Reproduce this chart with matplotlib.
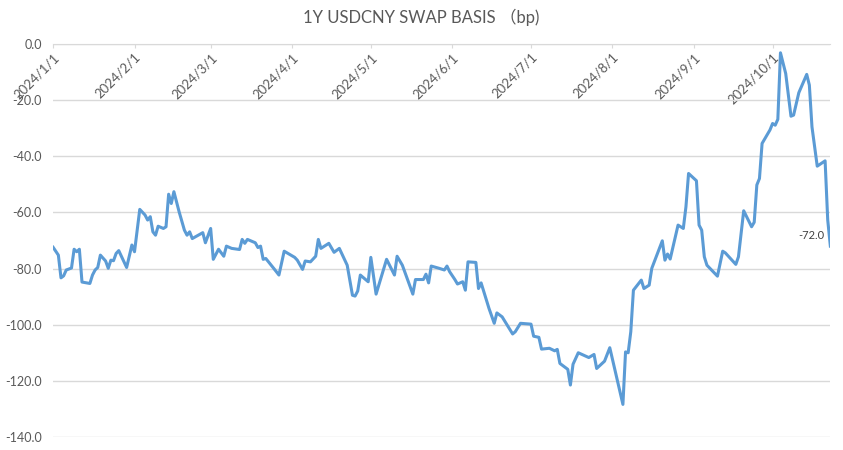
import matplotlib.pyplot as plt
import matplotlib.dates as mdates
import pandas as pd

params = {
    'font.family': ['Lato', 'Noto Sans CJK SC', 'DejaVu Sans'],
    'font.size': 9,
    'axes.unicode_minus': False,
}
plt.rcParams.update(params)

title = '1Y USDCNY SWAP BASIS （bp)'

dates = [
    '2024-01-01', '2024-01-03', '2024-01-04', '2024-01-05', '2024-01-06', '2024-01-08',
    '2024-01-09', '2024-01-10', '2024-01-11', '2024-01-12', '2024-01-15', '2024-01-16',
    '2024-01-17', '2024-01-18', '2024-01-19', '2024-01-21', '2024-01-22', '2024-01-23',
    '2024-01-24', '2024-01-25', '2024-01-26', '2024-01-29', '2024-01-31', '2024-02-01',
    '2024-02-03', '2024-02-05', '2024-02-06', '2024-02-07', '2024-02-08', '2024-02-09',
    '2024-02-10', '2024-02-12', '2024-02-13', '2024-02-14', '2024-02-15', '2024-02-16',
    '2024-02-18', '2024-02-20', '2024-02-21', '2024-02-22', '2024-02-23', '2024-02-27',
    '2024-02-28', '2024-03-01', '2024-03-02', '2024-03-04', '2024-03-06', '2024-03-07',
    '2024-03-09', '2024-03-12', '2024-03-13', '2024-03-14', '2024-03-15', '2024-03-18',
    '2024-03-19', '2024-03-20', '2024-03-21', '2024-03-22', '2024-03-25', '2024-03-27',
    '2024-03-29', '2024-04-02', '2024-04-03', '2024-04-05', '2024-04-06', '2024-04-08',
    '2024-04-10', '2024-04-11', '2024-04-12', '2024-04-15', '2024-04-17', '2024-04-19',
    '2024-04-22', '2024-04-24', '2024-04-25', '2024-04-26', '2024-04-27', '2024-04-30',
    '2024-05-01', '2024-05-03', '2024-05-07', '2024-05-10', '2024-05-11', '2024-05-13',
    '2024-05-17', '2024-05-18', '2024-05-21', '2024-05-22', '2024-05-23', '2024-05-24',
    '2024-05-27', '2024-05-29', '2024-05-30', '2024-05-31', '2024-06-02', '2024-06-03',
    '2024-06-05', '2024-06-06', '2024-06-07', '2024-06-10', '2024-06-11', '2024-06-12',
    '2024-06-15', '2024-06-17', '2024-06-18', '2024-06-20', '2024-06-24', '2024-06-25',
    '2024-06-27', '2024-07-01', '2024-07-02', '2024-07-04', '2024-07-05', '2024-07-08',
    '2024-07-10', '2024-07-11', '2024-07-12', '2024-07-15', '2024-07-16', '2024-07-17',
    '2024-07-19', '2024-07-23', '2024-07-25', '2024-07-26', '2024-07-29', '2024-07-31',
    '2024-08-05', '2024-08-06', '2024-08-07', '2024-08-08', '2024-08-09', '2024-08-12',
    '2024-08-13', '2024-08-15', '2024-08-16', '2024-08-20', '2024-08-21', '2024-08-22',
    '2024-08-23', '2024-08-26', '2024-08-28', '2024-08-29', '2024-08-30', '2024-09-02',
    '2024-09-03', '2024-09-04', '2024-09-05', '2024-09-06', '2024-09-10', '2024-09-12',
    '2024-09-13', '2024-09-17', '2024-09-18', '2024-09-20', '2024-09-23', '2024-09-24',
    '2024-09-25', '2024-09-26', '2024-09-27', '2024-09-30', '2024-10-01', '2024-10-02',
    '2024-10-03', '2024-10-04', '2024-10-06', '2024-10-08', '2024-10-09', '2024-10-11',
    '2024-10-14', '2024-10-15', '2024-10-16', '2024-10-18', '2024-10-21', '2024-10-22',
    '2024-10-23',
]

basis = [
    -72.4, -75.2, -83.3, -82.6, -80.5, -79.8,
    -73.1, -74.0, -73.1, -84.8, -85.3, -82.3,
    -80.5, -79.6, -75.2, -77.3, -79.9, -77.0,
    -77.2, -74.6, -73.6, -79.6, -71.6, -74.0,
    -58.9, -60.9, -62.7, -61.5, -66.9, -68.1,
    -64.9, -65.7, -65.1, -53.5, -56.8, -52.6,
    -59.8, -66.3, -68.1, -66.9, -69.3, -67.2,
    -70.8, -65.7, -76.7, -73.1, -75.6, -72.0,
    -72.8, -73.2, -69.6, -71.0, -69.6, -70.8,
    -72.5, -72.0, -76.7, -76.4, -79.9, -82.3,
    -73.8, -76.0, -77.0, -80.3, -77.3, -77.6,
    -75.6, -69.6, -72.8, -71.0, -74.2, -72.8,
    -78.8, -89.5, -89.8, -88.0, -82.3, -84.7,
    -76.0, -89.1, -76.7, -82.3, -75.6, -78.8,
    -89.1, -83.9, -83.9, -82.0, -85.1, -79.1,
    -79.9, -80.5, -79.1, -81.1, -83.9, -85.5,
    -84.7, -87.7, -77.6, -77.8, -87.1, -85.1,
    -94.2, -99.5, -95.8, -97.2, -103.3, -102.5,
    -99.5, -99.8, -104.1, -104.5, -108.7, -108.4,
    -109.3, -108.8, -113.8, -115.9, -121.5, -114.1,
    -110.0, -111.7, -110.6, -115.6, -113.0, -108.2,
    -128.4, -109.7, -110.0, -102.5, -87.7, -84.1,
    -87.1, -85.9, -79.9, -70.1, -77.0, -74.8,
    -76.6, -64.5, -65.7, -58.0, -46.1, -48.7,
    -64.5, -66.3, -75.8, -78.8, -82.7, -73.8,
    -74.4, -78.5, -75.8, -59.4, -65.1, -63.5,
    -50.2, -47.9, -35.4, -30.6, -28.3, -28.9,
    -26.8, -3.1, -10.5, -25.7, -25.3, -17.3,
    -10.8, -14.6, -29.5, -43.5, -41.6, -62.7,
    -72.0,
]

yticks = [0, -20, -40, -60, -80, -100, -120, -140]

x = pd.to_datetime(dates)

fig = plt.figure(figsize=[8.43, 4.5], dpi=100)
ax = fig.add_axes([0.063, 0.029, 0.922, 0.873])

ax.plot(x, basis, color='#5B9BD5', linewidth=2.2, solid_joinstyle='round')
ax.annotate('{:.1f}'.format(basis[-1]), xy=(x[-1], basis[-1]),
            xytext=(-4, 4), textcoords='offset points',
            ha='right', va='bottom', fontsize=8, color='#404040')

ax.set_ylim(-140, 0)
ax.set_yticks(yticks)
ax.set_yticklabels(['{:.1f}'.format(v) for v in yticks])
ax.set_xlim(pd.Timestamp('2024-01-01'), x[-1])
ax.xaxis.set_major_locator(mdates.MonthLocator())
ax.xaxis.set_major_formatter(mdates.DateFormatter('%Y/%-m/%-d'))

ax.grid(axis='y', color='#d9d9d9', linewidth=1.0)
ax.set_axisbelow(True)
for side in ['left', 'right', 'top']:
    ax.spines[side].set_visible(False)
ax.spines['bottom'].set_position(('data', 0))
ax.spines['bottom'].set_color('#d9d9d9')

ax.tick_params(axis='y', length=0, pad=8, labelsize=9, labelcolor='#595959')
ax.tick_params(axis='x', direction='out', length=3, color='#d9d9d9',
               labelsize=9.5, labelcolor='#595959', pad=2)
for lab in ax.get_xticklabels():
    lab.set_rotation(45)
    lab.set_ha('right')
    lab.set_rotation_mode('anchor')

fig.text(0.5, 0.962, title, ha='center', va='center', fontsize=12, color='#595959')

fig.savefig('out.png', dpi=100)
